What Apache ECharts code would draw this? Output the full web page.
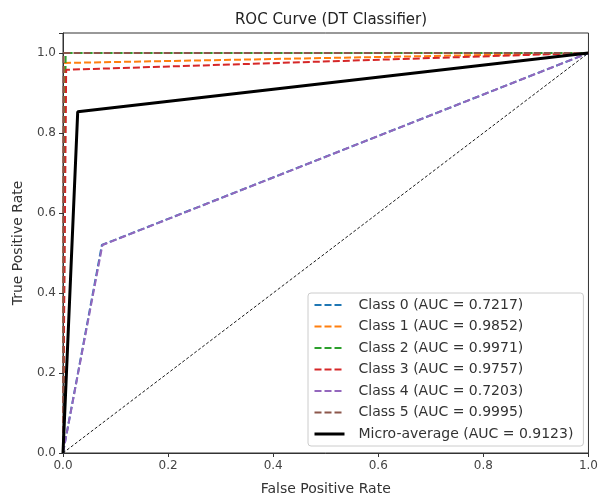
<!DOCTYPE html>
<html>
<head>
<meta charset="utf-8">
<script src="https://cdn.jsdelivr.net/npm/echarts@6/dist/echarts.min.js"></script>
<style>
  html, body { margin: 0; padding: 0; background: #fff; }
  #chart { width: 601px; height: 502px; }
</style>
</head>
<body>
<div id="chart"></div>
<script>
// ROC points (fpr, tpr)
var classNames = ['Class 0 (AUC = 0.7217)', 'Class 1 (AUC = 0.9852)', 'Class 2 (AUC = 0.9971)',
                  'Class 3 (AUC = 0.9757)', 'Class 4 (AUC = 0.7203)', 'Class 5 (AUC = 0.9995)'];
var classColors = ['#1f77b4', '#ff7f0e', '#2ca02c', '#d62728', '#9467bd', '#8c564b'];

var fpr0 = [0, 0.074, 1];   var tpr0 = [0, 0.52, 1];
var fpr1 = [0, 0.002, 1];   var tpr1 = [0, 0.975, 1];
var fpr2 = [0, 0.005, 1];   var tpr2 = [0, 1.0, 1];
var fpr3 = [0, 0.006, 1];   var tpr3 = [0, 0.958, 1];
var fpr4 = [0, 0.075, 1];   var tpr4 = [0, 0.52, 1];
var fpr5 = [0, 0.001, 1];   var tpr5 = [0, 1.0, 1];

var microName = 'Micro-average (AUC = 0.9123)';
var fprMicro = [0, 0.028, 1];
var tprMicro = [0, 0.853, 1];

var diagX = [0, 1];
var diagY = [0, 1];

var tickLabels = ['0.0', '0.2', '0.4', '0.6', '0.8', '1.0'];

function pairs(xs, ys) {
    var out = [];
    for (var i = 0; i < xs.length; i++) out.push([xs[i], ys[i]]);
    return out;
}

var fprs = [fpr0, fpr1, fpr2, fpr3, fpr4, fpr5];
var tprs = [tpr0, tpr1, tpr2, tpr3, tpr4, tpr5];

var series = [];
var legendData = [];
for (var c = 0; c < classNames.length; c++) {
    series.push({
        name: classNames[c],
        type: 'line',
        data: pairs(fprs[c], tprs[c]),
        symbol: 'none',
        color: classColors[c],
        lineStyle: { color: classColors[c], width: 2, type: [7, 3] },
        animation: false
    });
    legendData.push({ name: classNames[c], lineStyle: { width: 2 } });
}
series.push({
    name: microName,
    type: 'line',
    data: pairs(fprMicro, tprMicro),
    symbol: 'none',
    color: '#000',
    lineStyle: { color: '#000', width: 3 },
    animation: false
});
legendData.push({ name: microName, lineStyle: { width: 3 } });
series.push({
    name: 'diag',
    type: 'line',
    data: pairs(diagX, diagY),
    symbol: 'none',
    lineStyle: { color: '#000', width: 0.9, type: [3, 2] },
    animation: false
});

function fmt(v) {
    if (v > 1.0001) return '';
    return tickLabels[Math.round(v / 0.2)];
}

var font = 'DejaVu Sans';
var chart = echarts.init(document.getElementById('chart'));
chart.setOption({
    backgroundColor: '#fff',
    title: {
        text: 'ROC Curve (DT Classifier)',
        left: 326, top: 8, textAlign: 'center',
        textStyle: { fontFamily: font, fontSize: 15, fontWeight: 'normal', color: '#222' }
    },
    grid: { left: 63, right: 11, top: 33, bottom: 49, show: true, borderColor: '#333', borderWidth: 1 },
    legend: {
        data: legendData,
        orient: 'vertical',
        left: 308, top: 293,
        itemWidth: 30, itemHeight: 14, itemGap: 5.5,
        padding: [4, 10, 4, 5],
        itemStyle: { opacity: 0 },
        backgroundColor: 'rgba(255,255,255,0.85)',
        borderColor: '#ccc', borderWidth: 1, borderRadius: 3,
        textStyle: { fontFamily: font, fontSize: 14, color: '#333', lineHeight: 16, padding: [0, 0, 0, 9] }
    },
    xAxis: {
        type: 'value', min: 0, max: 1, interval: 0.2,
        name: 'False Positive Rate', nameLocation: 'middle', nameGap: 29,
        nameTextStyle: { fontFamily: font, fontSize: 14, color: '#333' },
        axisLine: { lineStyle: { color: '#333' } },
        axisTick: { show: true, length: 4, lineStyle: { color: '#333' } },
        axisLabel: { fontFamily: font, fontSize: 12, color: '#444', margin: 7, formatter: fmt },
        splitLine: { show: false }
    },
    yAxis: {
        type: 'value', min: 0, max: 1.05, interval: 0.2,
        name: 'True Positive Rate', nameLocation: 'middle', nameGap: 38,
        nameTextStyle: { fontFamily: font, fontSize: 14, color: '#333' },
        axisLine: { show: true, lineStyle: { color: '#333' } },
        axisTick: { show: true, length: 4, lineStyle: { color: '#333' } },
        axisLabel: { fontFamily: font, fontSize: 12, color: '#444', margin: 7, formatter: fmt },
        splitLine: { show: false }
    },
    series: series
});
</script>
</body>
</html>
